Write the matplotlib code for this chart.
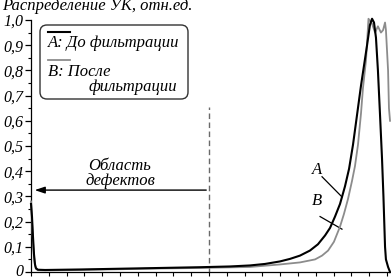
import matplotlib
matplotlib.use("Agg")
import matplotlib.pyplot as plt
import matplotlib.transforms as mtransforms
from matplotlib.patches import FancyBboxPatch
from matplotlib.lines import Line2D
from matplotlib.ticker import MultipleLocator

# ---- data ----
xa = [0.0, 0.056, 0.112, 0.169, 0.225, 0.28, 0.39, 0.79, 2.75, 5.0, 7.25, 9.49, 11.18, 12.3,
      13.15, 13.99, 14.55, 15.11, 15.67, 16.12, 16.52, 16.80, 17.08, 17.36, 17.64, 17.87,
      18.09, 18.31, 18.54, 18.71, 18.88, 19.04, 19.16, 19.27, 19.38, 19.49, 19.61, 19.72,
      19.80, 19.89, 19.94, 20.06, 20.17]
ya = [0.27, 0.22, 0.14, 0.07, 0.03, 0.015, 0.009, 0.008, 0.01, 0.013, 0.016, 0.019, 0.022, 0.026,
      0.032, 0.042, 0.052, 0.065, 0.085, 0.11, 0.145, 0.175, 0.22, 0.27, 0.34, 0.41,
      0.505, 0.62, 0.74, 0.82, 0.90, 0.98, 1.005, 0.99, 0.93, 0.80, 0.62, 0.45,
      0.30, 0.10, 0.05, 0.02, 0.0]

xb = [0.0, 0.056, 0.112, 0.169, 0.225, 0.28, 0.39, 0.79, 2.75, 5.0, 7.25, 9.49, 12.3, 13.99,
      15.11, 15.96, 16.35, 16.69, 17.02, 17.36, 17.58, 17.81, 18.03, 18.2, 18.37, 18.54,
      18.65, 18.82, 18.96, 19.16, 19.33, 19.49, 19.66, 19.78, 19.89, 19.94, 20.0, 20.06,
      20.11, 20.17]
yb = [0.28, 0.20, 0.12, 0.06, 0.025, 0.012, 0.007, 0.006, 0.008, 0.011, 0.014, 0.016, 0.02, 0.03,
      0.038, 0.05, 0.065, 0.085, 0.12, 0.18, 0.23, 0.29, 0.36, 0.42, 0.505, 0.63,
      0.73, 0.84, 1.005, 0.985, 0.95, 0.975, 0.95, 0.96, 0.99, 0.96, 0.88, 0.80,
      0.65, 0.60]

yticks = [0.0, 0.1, 0.2, 0.3, 0.4, 0.5, 0.6, 0.7, 0.8, 0.9, 1.0]
ylabels = ["0", "0,1", "0,2", "0,3", "0,4", "0,5", "0,6", "0,7", "0,8", "0,9", "1,0"]
defect_border = 10.0
arrow_level = 0.325

FONT = "Liberation Serif"
FS = 12
FST = 11.5

fig = plt.figure(figsize=(3.91, 2.79), dpi=100)
ax = fig.add_axes([31/391, 7/279, 1 - 31/391, 252/279])
ax.set_xlim(0, 360/17.8)
ax.set_ylim(0, 1.0)

ax.plot(xb, yb, color="#8c8c8c", lw=1.3, clip_on=False, zorder=3)
ax.plot(xa, ya, color="black", lw=1.5, clip_on=False, zorder=4)

for s in ["top", "right"]:
    ax.spines[s].set_visible(False)
for s in ["left", "bottom"]:
    ax.spines[s].set_linewidth(0.9)

ax.set_yticks(yticks)
ax.set_yticklabels(ylabels, fontfamily=FONT, fontstyle="italic", fontsize=FST)
ax.yaxis.set_minor_locator(MultipleLocator(0.05))
ax.xaxis.set_major_locator(MultipleLocator(1))
ax.set_xticklabels([])
ax.tick_params(axis="y", which="major", direction="out", length=4, width=0.9, pad=1.5)
ax.tick_params(axis="y", which="minor", direction="out", length=2, width=0.8)
ax.tick_params(axis="x", which="major", direction="out", length=3, width=0.8, labelbottom=False)

# nudge the bottom "0" label slightly up so it stays inside the canvas
lbl0 = ax.get_yticklabels()[0]
lbl0.set_transform(lbl0.get_transform() + mtransforms.ScaledTranslation(0, 2/100, fig.dpi_scale_trans))

# dashed border
ax.plot([defect_border, defect_border], [0, 0.655], color="#6a6a6a", lw=1.0, ls=(0, (4, 2.5)))
# arrow
ax.annotate("", xy=(0.05, arrow_level), xytext=(defect_border, arrow_level),
            arrowprops=dict(arrowstyle="-|>,head_length=0.6,head_width=0.2", color="black", lw=1.0))
ax.text(5.0, 0.42, "Область", ha="center", va="center", fontfamily=FONT,
        fontstyle="italic", fontsize=FS)
ax.text(5.0, 0.36, "дефектов", ha="center", va="center", fontfamily=FONT,
        fontstyle="italic", fontsize=FS)

# A/B labels with leaders
ax.text(16.07, 0.405, "A", ha="center", va="center", fontfamily=FONT, fontstyle="italic", fontsize=FS)
ax.plot([16.35, 17.47], [0.378, 0.298], color="black", lw=0.9)
ax.text(16.07, 0.28, "B", ha="center", va="center", fontfamily=FONT, fontstyle="italic", fontsize=FS)
ax.plot([16.24, 17.47], [0.22, 0.17], color="black", lw=0.9)

# title
T = fig.dpi_scale_trans
fig.text(0.02, 2.79 - 0.065, "Распределение УК, отн.ед.", transform=T, ha="left", va="center",
         fontfamily=FONT, fontstyle="italic", fontsize=FS)

# legend box
box = FancyBboxPatch((0.40, 1.80), 1.48, 0.74, boxstyle="round,pad=0,rounding_size=0.07",
                     transform=T, facecolor="white", edgecolor="#333333", lw=1.0, zorder=5)
fig.patches.append(box)
fig.lines.append(Line2D([0.48, 0.70], [2.47, 2.47], transform=T, color="black", lw=1.5, zorder=6))
fig.lines.append(Line2D([0.48, 0.70], [2.19, 2.19], transform=T, color="#8c8c8c", lw=1.3, zorder=6))
fig.text(0.48, 2.36, "A: До фильтрации", transform=T, ha="left", va="center",
         fontfamily=FONT, fontstyle="italic", fontsize=FS, zorder=7)
fig.text(0.48, 2.07, "B: После", transform=T, ha="left", va="center",
         fontfamily=FONT, fontstyle="italic", fontsize=FS, zorder=7)
fig.text(1.33, 1.92, "фильтрации", transform=T, ha="center", va="center",
         fontfamily=FONT, fontstyle="italic", fontsize=FS, zorder=7)

fig.savefig("out.png", dpi=100)
